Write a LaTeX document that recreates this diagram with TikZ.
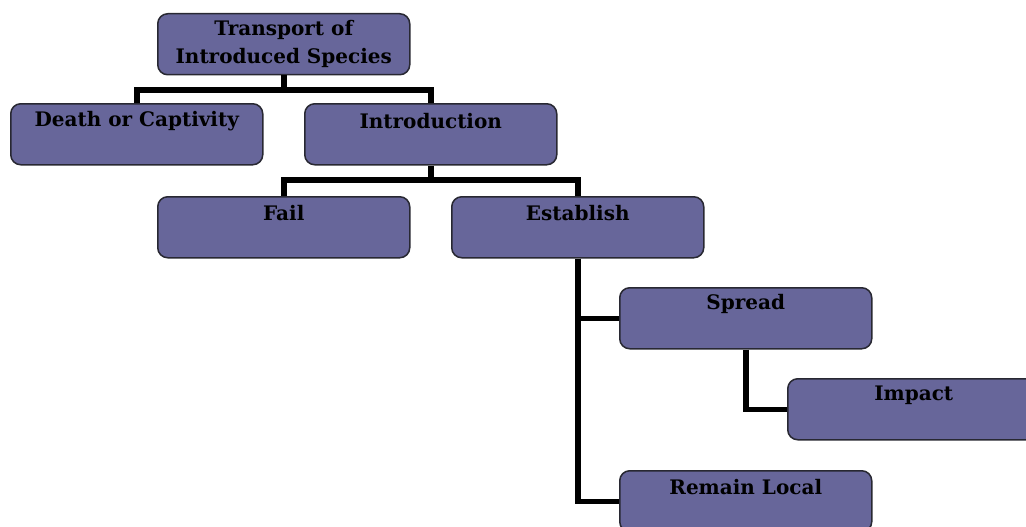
\documentclass[tikz,border=0pt]{standalone}
\usepackage{fontspec}
\setmainfont{DejaVu Serif}
\usetikzlibrary{positioning}
\definecolor{boxfill}{RGB}{103,102,154}
\definecolor{boxline}{RGB}{40,40,50}
\tikzset{
  box/.style={draw=boxline, fill=boxfill, line width=1.5pt, rounded corners=10pt,
    minimum width=252pt, minimum height=61pt, inner sep=0pt, anchor=north west},
  boxtext/.style={font=\bfseries\fontsize{20}{28}\selectfont, text=black, align=center},
  conn/.style={line width=5.5pt, black}
}
\begin{document}
\begin{tikzpicture}[x=1pt,y=-1pt]
\useasboundingbox (0,0) rectangle (1026,527);
\clip (0,0) rectangle (1026,527);
\fill[white] (0,0) rectangle (1026,527);
% connectors
\coordinate (r1) at (0,90);
\coordinate (r2) at (0,180);
% boxes
\node[box] (top) at (157,13) {};
\node[box] (death) at (10,103) {};
\node[box] (intro) at (304,103) {};
\node[box] (fail) at (157,196) {};
\node[box] (est) at (451,196) {};
\node[box] (spread) at (619,287) {};
\node[box] (impact) at (787,378) {};
\node[box] (remain) at (619,470) {};
% connectors
\draw[conn] (top.south) -- (top.south |- r1) -| (death.north);
\draw[conn] (top.south |- r1) -| (intro.north);
\draw[conn] (intro.south) -- (intro.south |- r2) -| (fail.north);
\draw[conn] (intro.south |- r2) -| (est.north);
\draw[conn] (est.south) |- (spread.west);
\draw[conn] (est.south) |- (remain.west);
\draw[conn] (spread.south) |- (impact.west);
% texts
\node[boxtext] (ttop) at ([yshift=-31pt]top.north) {Transport of\\Introduced Species};
\node[boxtext] (tdeath) at ([yshift=-18pt]death.north) {Death or Captivity};
\node[boxtext] (tintro) at ([yshift=-18pt]intro.north) {Introduction};
\node[boxtext] (tfail) at ([yshift=-17pt]fail.north) {Fail};
\node[boxtext] (test) at ([yshift=-17pt]est.north) {Establish};
\node[boxtext] (tspread) at ([yshift=-17pt]spread.north) {Spread};
\node[boxtext] (timpact) at ([yshift=-17pt]impact.north) {Impact};
\node[boxtext] (tremain) at ([yshift=-17pt]remain.north) {Remain Local};
\end{tikzpicture}
\end{document}
